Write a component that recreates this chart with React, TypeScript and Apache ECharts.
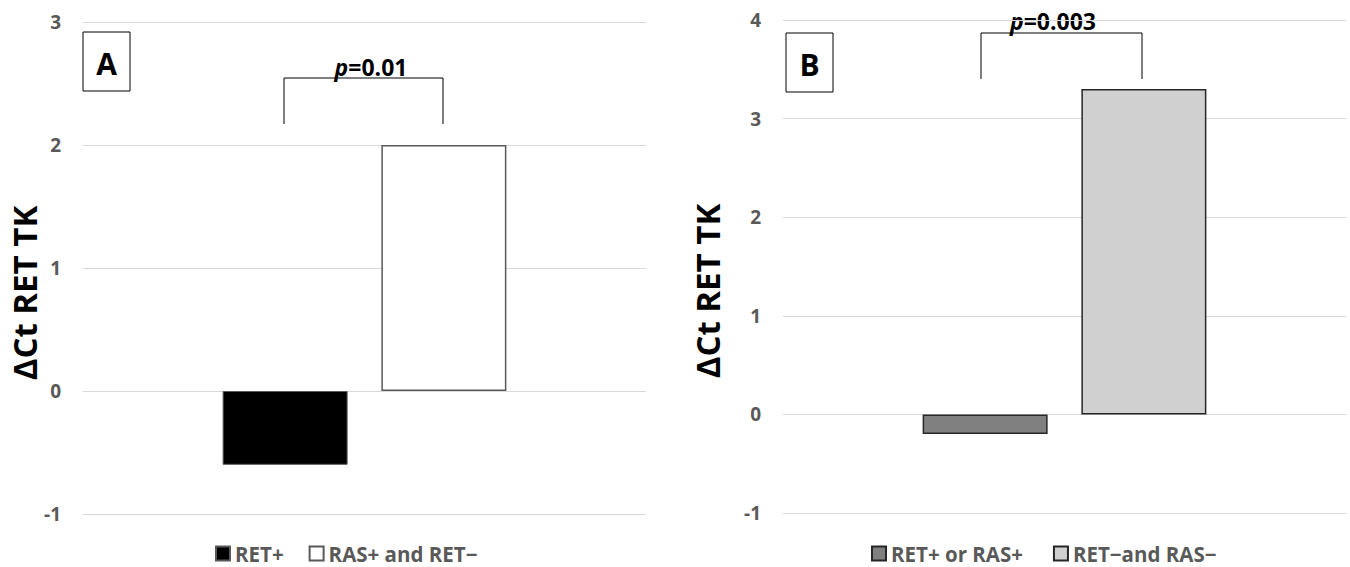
import React, { useEffect, useRef } from "react";
import * as echarts from "echarts";

// ---- data ----
const categoriesA = [""];
const seriesNamesA = ["RET+", "RAS+ and RET−"];
const valuesA = [-0.6, 2.0];
const yMinA = -1;
const yMaxA = 3;

const categoriesB = [""];
const seriesNamesB = ["RET+ or RAS+", "RET−and RAS−"];
const valuesB = [-0.2, 3.3];
const yMinB = -1;
const yMaxB = 4;

const yAxisTitle = "ΔCt RET TK";
const pValueA = "0.01";
const pValueB = "0.003";
const panelLabels = ["A", "B"];

const FONT = "'Open Sans', 'DejaVu Sans', sans-serif";
const GRAY = "#595959";

export default function App() {
  const ref = useRef<HTMLDivElement>(null);

  useEffect(() => {
    if (!ref.current) return;
    const chart = echarts.init(ref.current, undefined, { renderer: "svg" });

    const yAxisCommon = {
      type: "value" as const,
      interval: 1,
      axisLine: { show: false },
      axisTick: { show: false },
      axisLabel: {
        color: GRAY,
        fontFamily: FONT,
        fontWeight: "bold" as const,
        fontSize: 19,
        margin: 22,
      },
      splitLine: { lineStyle: { color: "#d9d9d9", width: 1 } },
    };
    const xAxisCommon = {
      type: "category" as const,
      axisLine: { show: false },
      axisTick: { show: false },
      axisLabel: { show: false },
    };

    const barStyles = [
      { color: "#000000", borderColor: "#595959", borderWidth: 1 },
      { color: "#ffffff", borderColor: "#595959", borderWidth: 1.5 },
      { color: "#808080", borderColor: "#262626", borderWidth: 1.5 },
      { color: "#d0d0d0", borderColor: "#262626", borderWidth: 1.5 },
    ];

    const legendCommon = {
      orient: "horizontal" as const,
      icon: "rect",
      itemWidth: 14,
      itemHeight: 14,
      padding: 0,
      selectedMode: false,
      textStyle: {
        color: GRAY,
        fontFamily: FONT,
        fontWeight: "bold" as const,
        fontSize: 20.5,
        lineHeight: 20,
      },
    };

    const pText = (x: number, y: number, v: string) => ({
      type: "text",
      x,
      y,
      style: {
        text: "{i|p}{n|=" + v + "}",
        align: "center",
        verticalAlign: "middle",
        rich: {
          i: { fontStyle: "italic", fontWeight: "bold", fontSize: 23, fontFamily: FONT, fill: "#000" },
          n: { fontWeight: "bold", fontSize: 23, fontFamily: FONT, fill: "#000" },
        },
      },
    });

    const titleText = (x: number, y: number) => ({
      type: "text",
      x,
      y,
      rotation: Math.PI / 2,
      style: {
        text: yAxisTitle,
        align: "center",
        verticalAlign: "middle",
        fontFamily: FONT,
        fontWeight: "bold",
        fontSize: 33,
        fill: "#000",
      },
    });

    const box = (x: number, y: number, label: string) => ({
      type: "group",
      children: [
        {
          type: "rect",
          shape: { x, y, width: 47, height: 59 },
          style: { fill: "#fff", stroke: "#000", lineWidth: 1 },
        },
        {
          type: "text",
          x: x + 23.5,
          y: y + 31,
          style: {
            text: label,
            align: "center",
            verticalAlign: "middle",
            fontFamily: FONT,
            fontWeight: "bold",
            fontSize: 30,
            fill: "#000",
          },
        },
      ],
    });

    chart.setOption({
      animation: false,
      backgroundColor: "#ffffff",
      grid: [
        { left: 83, width: 563, top: 22, height: 492 },
        { left: 783, width: 563, top: 20, height: 493 },
      ],
      xAxis: [
        { ...xAxisCommon, gridIndex: 0, data: categoriesA },
        { ...xAxisCommon, gridIndex: 1, data: categoriesB },
      ],
      yAxis: [
        { ...yAxisCommon, gridIndex: 0, min: yMinA, max: yMaxA },
        { ...yAxisCommon, gridIndex: 1, min: yMinB, max: yMaxB },
      ],
      legend: [
        { ...legendCommon, left: 215, top: 543, itemGap: 25, data: seriesNamesA },
        { ...legendCommon, left: 871, top: 543, itemGap: 30, data: seriesNamesB },
      ],
      series: [
        ...seriesNamesA.map((name, i) => ({
          name,
          type: "bar",
          xAxisIndex: 0,
          yAxisIndex: 0,
          barWidth: 125,
          barGap: "27%",
          data: [valuesA[i]],
          itemStyle: barStyles[i],
        })),
        ...seriesNamesB.map((name, i) => ({
          name,
          type: "bar",
          xAxisIndex: 1,
          yAxisIndex: 1,
          barWidth: 125,
          barGap: "27%",
          data: [valuesB[i]],
          itemStyle: barStyles[i + 2],
        })),
      ],
      graphic: [
        titleText(24, 293),
        titleText(707, 291),
        box(83, 32, panelLabels[0]),
        box(786, 33, panelLabels[1]),
        {
          type: "polyline",
          shape: { points: [[284, 124], [284, 78], [443, 78], [443, 124]] },
          style: { stroke: "#000", lineWidth: 1, fill: "none" },
        },
        {
          type: "polyline",
          shape: { points: [[981, 79], [981, 33], [1142, 33], [1142, 79]] },
          style: { stroke: "#000", lineWidth: 1, fill: "none" },
        },
        pText(371, 67, pValueA),
        pText(1053, 21, pValueB),
      ],
    });

    return () => chart.dispose();
  }, []);

  return (
    <div
      ref={ref}
      style={{ position: "fixed", left: 0, top: 0, width: 1350, height: 567, background: "#fff" }}
    />
  );
}
